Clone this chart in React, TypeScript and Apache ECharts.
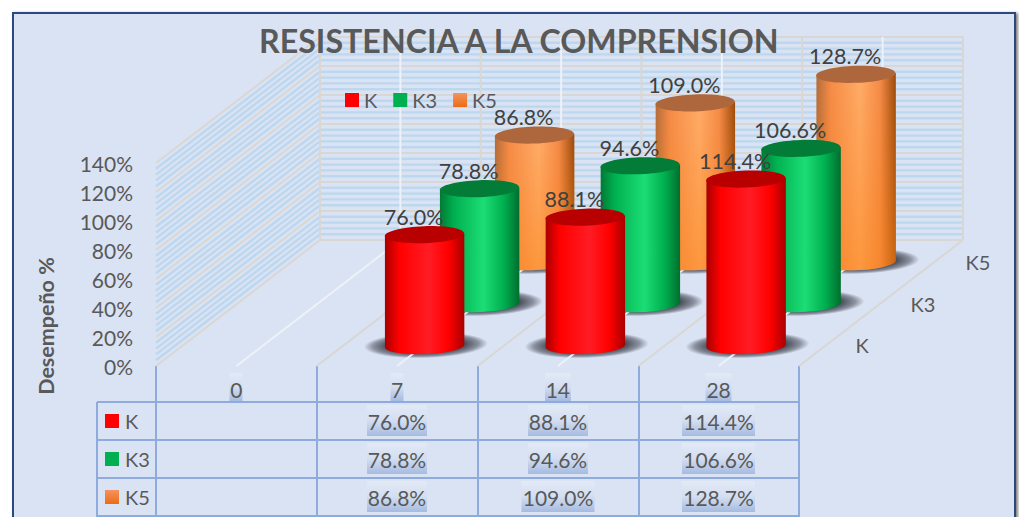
import React, { useEffect, useRef } from "react";
import * as echarts from "echarts";

const titleText = "RESISTENCIA A LA COMPRENSION";
const yAxisTitle = "Desempeño %";
const categories = ["0", "7", "14", "28"];
const seriesNames = ["K", "K3", "K5"];
const valuesK: (number | null)[] = [null, 76.0, 88.1, 114.4];
const valuesK3: (number | null)[] = [null, 78.8, 94.6, 106.6];
const valuesK5: (number | null)[] = [null, 86.8, 109.0, 128.7];
const allValues = [valuesK, valuesK3, valuesK5];
const yMajorTicks = [0, 20, 40, 60, 80, 100, 120, 140];
const yMinorTicks = [4, 8, 12, 16, 24, 28, 32, 36, 44, 48, 52, 56, 64, 68, 72, 76, 84, 88, 92, 96, 104, 108, 112, 116, 124, 128, 132, 136];

const FONT = "Lato";
const DEPTH_X = 164;
const DEPTH_Y = -126;
const BAR_DEPTH_X = 165;
const BAR_RX = 39.7;
const BAR_RY = 8.5;
const TILT = 1.4;

const vGrad = (a: any) => new echarts.graphic.LinearGradient(0, 0, 0, 1, a);
const hGrad = (a: any) => new echarts.graphic.LinearGradient(0, 0, 1, 0, a);

const stops = (e: string, m: string, h: string, e2: string) => [
  { offset: 0, color: e },
  { offset: 0.18, color: m },
  { offset: 0.55, color: h },
  { offset: 0.8, color: m },
  { offset: 1, color: e2 },
];
const sideFill = [
  hGrad(stops("#A80000", "#FF0000", "#FF1C24", "#A80000")),
  hGrad(stops("#007A35", "#00B050", "#1CDD75", "#006E2E")),
  hGrad(stops("#B06C3C", "#F58B48", "#FFAC68", "#9A4A0C")),
];
const orangeWash = vGrad([
  { offset: 0, color: "rgba(250,130,20,0)" },
  { offset: 1, color: "rgba(250,130,20,0.5)" },
]);
const topFill = ["#B80000", "#027C36", "#AE673C"];
const legendColor = [
  "#FF0000",
  "#00B050",
  vGrad([
    { offset: 0, color: "#F4935F" },
    { offset: 1, color: "#EC6C14" },
  ]),
];

const baseOf = (api: any, k: number) => {
  const p = api.coord([api.value(0), 0]);
  return [
    p[0] + BAR_DEPTH_X * ((k + 0.5) / 3),
    p[1] + DEPTH_Y * ((k + 0.5) / 3),
  ];
};

const toData = (arr: (number | null)[]) =>
  arr.map((v, i) => [i, v]).filter((d) => d[1] != null);

const wallsRender = (params: any, api: any) => {
  const cs = params.coordSys;
  const x0 = cs.x;
  const x1 = cs.x + cs.width;
  const step = cs.width / categories.length;
  const grey = "#D9D7D3";
  const blue = "#BDD7EE";
  const line = (a: number, b: number, c: number, d: number, stroke: string, w: number) => ({
    type: "line",
    shape: { x1: a, y1: b, x2: c, y2: d },
    style: { stroke, lineWidth: w, fill: null },
    silent: true,
  });
  const kids: any[] = [];
  yMinorTicks.forEach((v) => {
    const y = api.coord([0, v])[1];
    kids.push(line(x0, y, x0 + DEPTH_X, y + DEPTH_Y, blue, 2.4));
    kids.push(line(x0 + DEPTH_X, y + DEPTH_Y, x1 + DEPTH_X, y + DEPTH_Y, blue, 2.4));
  });
  yMajorTicks.forEach((v) => {
    const y = api.coord([0, v])[1];
    kids.push(line(x0, y, x0 + DEPTH_X, y + DEPTH_Y, grey, 2));
    kids.push(line(x0 + DEPTH_X, y + DEPTH_Y, x1 + DEPTH_X, y + DEPTH_Y, grey, 2));
  });
  const yB = api.coord([0, 0])[1];
  const yT = api.coord([0, 140])[1];
  categories.forEach((_, i) => {
    const mid = x0 + step * (i + 0.5) + DEPTH_X;
    kids.push(line(mid, yT + DEPTH_Y, mid, yB + DEPTH_Y, "#EDF1F8", 2));
  });
  for (let i = 0; i <= categories.length; i++) {
    const x = x0 + step * i;
    kids.push(line(x + DEPTH_X, yT + DEPTH_Y, x + DEPTH_X, yB + DEPTH_Y, grey, 2));
    if (i > 0) kids.push(line(x, yB, x + DEPTH_X, yB + DEPTH_Y, grey, 2));
  }
  return { type: "group", children: kids };
};

const floorMidRender = (params: any, api: any) => {
  const p = api.coord([api.value(0), 0]);
  return {
    type: "line",
    shape: { x1: p[0], y1: p[1], x2: p[0] + DEPTH_X, y2: p[1] + DEPTH_Y },
    style: { stroke: "#EDF1F8", lineWidth: 2, fill: null },
    silent: true,
  };
};

const shadowRender = (k: number) => (params: any, api: any) => {
  const b = baseOf(api, k);
  return {
    type: "ellipse",
    shape: { cx: b[0] + 1, cy: b[1], rx: 62, ry: 13 },
    rotation: 0.03,
    originX: b[0],
    originY: b[1],
    style: {
      fill: new echarts.graphic.RadialGradient(0.5, 0.5, 0.5, [
        { offset: 0, color: "#454955" },
        { offset: 0.62, color: "#4A4E5B" },
        { offset: 0.85, color: "rgba(74,78,91,0.55)" },
        { offset: 1, color: "rgba(74,78,91,0)" },
      ]),
    },
    silent: true,
  };
};

const barRender = (k: number) => (params: any, api: any) => {
  const b = baseOf(api, k);
  const cx = b[0];
  const yB = b[1];
  const yT = yB + (api.coord([0, api.value(1)])[1] - api.coord([0, 0])[1]);
  const l = cx - BAR_RX;
  const r = cx + BAR_RX;
  const d = `M ${l} ${yT + TILT} L ${l} ${yB + TILT} A ${BAR_RX} ${BAR_RY} -2 0 0 ${r} ${yB - TILT} L ${r} ${yT - TILT} Z`;
  const kids: any[] = [
    { type: "path", shape: { pathData: d }, style: { fill: sideFill[k] }, silent: true },
  ];
  if (k === 2) {
    kids.push({ type: "path", shape: { pathData: d }, style: { fill: orangeWash }, silent: true });
  }
  kids.push({
    type: "ellipse",
    shape: { cx, cy: yT, rx: BAR_RX, ry: BAR_RY },
    rotation: 0.035,
    originX: cx,
    originY: yT,
    style: { fill: topFill[k] },
    silent: true,
  });
  return { type: "group", children: kids };
};

const labelRender = (k: number) => (params: any, api: any) => {
  const b = baseOf(api, k);
  const yT = b[1] + (api.coord([0, api.value(1)])[1] - api.coord([0, 0])[1]);
  return {
    type: "text",
    x: b[0] - 11,
    y: yT - 18,
    style: {
      text: api.value(1).toFixed(1) + "%",
      fontFamily: FONT,
      fontSize: 21.5,
      fill: "#404040",
      align: "center",
      verticalAlign: "middle",
    },
    silent: true,
  };
};

const TABLE_LEFT = 97;
const TABLE_COLS = [156, 317, 478, 639, 799];
const TABLE_ROWS = [402, 440, 478, 516];
const TABLE_LINE = "#8FAADC";

const highlight = (cx: number, y: number, w: number, h: number) => ({
  type: "rect",
  z: -5,
  shape: { x: cx - w / 2, y, width: w, height: h },
  style: {
    fill: vGrad([
      { offset: 0, color: "#E3EAF6" },
      { offset: 0.5, color: "#D3DEF1" },
      { offset: 1, color: "#A6BBE1" },
    ]),
  },
  silent: true,
});

const buildGraphic = () => {
  const el: any[] = [];
  el.push({
    type: "rect",
    z: -10,
    shape: { x: 13, y: 13, width: 1002, height: 520 },
    style: {
      fill: "#DAE3F3",
      stroke: "#2C4A7C",
      lineWidth: 2,
      shadowBlur: 3,
      shadowOffsetX: 2,
      shadowOffsetY: 1,
      shadowColor: "rgba(0,0,0,0.5)",
    },
    silent: true,
  });
  TABLE_COLS.forEach((x) => {
    el.push({
      type: "line",
      z: -4,
      shape: { x1: x, y1: 366, x2: x, y2: 517 },
      style: { stroke: TABLE_LINE, lineWidth: 2 },
      silent: true,
    });
  });
  TABLE_ROWS.forEach((y) => {
    el.push({
      type: "line",
      z: -4,
      shape: { x1: TABLE_LEFT, y1: y, x2: TABLE_COLS[TABLE_COLS.length - 1], y2: y },
      style: { stroke: TABLE_LINE, lineWidth: 2 },
      silent: true,
    });
  });
  el.push({
    type: "line",
    z: -4,
    shape: { x1: TABLE_LEFT, y1: TABLE_ROWS[0], x2: TABLE_LEFT, y2: 517 },
    style: { stroke: TABLE_LINE, lineWidth: 2 },
    silent: true,
  });
  // highlights behind the category labels
  categories.forEach((c, i) => {
    const cx = (TABLE_COLS[i] + TABLE_COLS[i + 1]) / 2;
    el.push(highlight(cx - 0.5, 373, c.length > 1 ? 26 : 13, 28));
  });
  // table rows
  seriesNames.forEach((name, r) => {
    const yMid = (TABLE_ROWS[r] + TABLE_ROWS[r + 1]) / 2 + 1;
    el.push({
      type: "rect",
      z: 3,
      shape: { x: 105, y: yMid - 8, width: 14, height: 14 },
      style: { fill: legendColor[r] },
      silent: true,
    });
    el.push({
      type: "text",
      z: 3,
      x: 125,
      y: yMid - 1,
      style: { text: name, fontFamily: FONT, fontSize: 20, fill: "#595959", align: "left", verticalAlign: "middle" },
      silent: true,
    });
    allValues[r].forEach((v, i) => {
      if (v == null) return;
      const cx = (TABLE_COLS[i] + TABLE_COLS[i + 1]) / 2 - 0.5;
      const txt = v.toFixed(1) + "%";
      el.push(highlight(cx, TABLE_ROWS[r] + 3, txt.length > 5 ? 73 : 60, 31));
      el.push({
        type: "text",
        z: 3,
        x: cx,
        y: yMid - 1,
        style: { text: txt, fontFamily: FONT, fontSize: 21, fill: "#595959", align: "center", verticalAlign: "middle" },
        silent: true,
      });
    });
  });
  // depth axis labels
  const depthPos = [
    [862, 345],
    [923, 304],
    [978, 262],
  ];
  seriesNames.forEach((name, k) => {
    el.push({
      type: "text",
      z: 3,
      x: depthPos[k][0],
      y: depthPos[k][1],
      style: { text: name, fontFamily: FONT, fontSize: 20, fill: "#595959", align: "center", verticalAlign: "middle" },
      silent: true,
    });
  });
  // y axis title
  el.push({
    type: "text",
    z: 3,
    x: 46,
    y: 326,
    rotation: Math.PI / 2,
    style: { text: yAxisTitle, fontFamily: FONT, fontWeight: "bold", fontSize: 21.5, fill: "#595959", align: "center", verticalAlign: "middle" },
    silent: true,
  });
  return el;
};

export default function App() {
  const ref = useRef<HTMLDivElement>(null);
  useEffect(() => {
    const chart = echarts.init(ref.current!, null, { renderer: "svg" });
    const order = [2, 1, 0];
    const series: any[] = [
      {
        type: "custom",
        name: "walls",
        z: 1,
        silent: true,
        encode: { x: 0, y: 1 },
        data: [[0, 0]],
        renderItem: wallsRender,
      },
    ];
    order.forEach((k) => {
      series.push({
        type: "custom",
        name: "shadow" + k,
        z: 2,
        silent: true,
        encode: { x: 0, y: 1 },
        data: toData(allValues[k]),
        renderItem: shadowRender(k),
      });
    });
    series.push({
      type: "custom",
      name: "floor",
      z: 3,
      silent: true,
      encode: { x: 0, y: 1 },
      data: categories.map((_, i) => [i, 0]),
      renderItem: floorMidRender,
    });
    order.forEach((k) => {
      series.push({
        type: "custom",
        name: seriesNames[k],
        z: 4 + (2 - k),
        silent: true,
        encode: { x: 0, y: 1 },
        itemStyle: { color: legendColor[k] },
        data: toData(allValues[k]),
        renderItem: barRender(k),
      });
    });
    order.forEach((k) => {
      series.push({
        type: "custom",
        name: "label" + k,
        z: 10,
        silent: true,
        encode: { x: 0, y: 1 },
        data: toData(allValues[k]),
        renderItem: labelRender(k),
      });
    });
    chart.setOption({
      animation: false,
      backgroundColor: "#FFFFFF",
      title: {
        text: titleText,
        left: 259,
        top: 24,
        padding: 0,
        z: 6,
        textStyle: { fontFamily: FONT, fontWeight: "bold", fontSize: 32.2, color: "#595959" },
      },
      legend: {
        left: 345,
        top: 90,
        padding: 0,
        itemWidth: 14,
        itemHeight: 14,
        itemGap: 16,
        icon: "rect",
        selectedMode: false,
        data: seriesNames,
        textStyle: { fontFamily: FONT, fontSize: 20, color: "#595959", padding: [0, 0, 0, 0] },
      },
      grid: { left: 156, top: 163, width: 643, height: 203, containLabel: false },
      xAxis: {
        type: "category",
        data: categories,
        axisLine: { show: false },
        axisTick: { show: false },
        splitLine: { show: false },
        axisLabel: { fontFamily: FONT, fontSize: 21, color: "#595959", margin: 13 },
      },
      yAxis: {
        type: "value",
        min: 0,
        max: 140,
        interval: 20,
        axisLine: { show: false },
        axisTick: { show: false },
        splitLine: { show: false },
        axisLabel: { fontFamily: FONT, fontSize: 21, color: "#595959", margin: 23, formatter: "{value}%" },
      },
      tooltip: { show: false },
      graphic: { elements: buildGraphic() },
      series,
    });
    return () => chart.dispose();
  }, []);
  return <div ref={ref} style={{ position: "absolute", left: 0, top: 0, width: 1019, height: 517 }} />;
}
